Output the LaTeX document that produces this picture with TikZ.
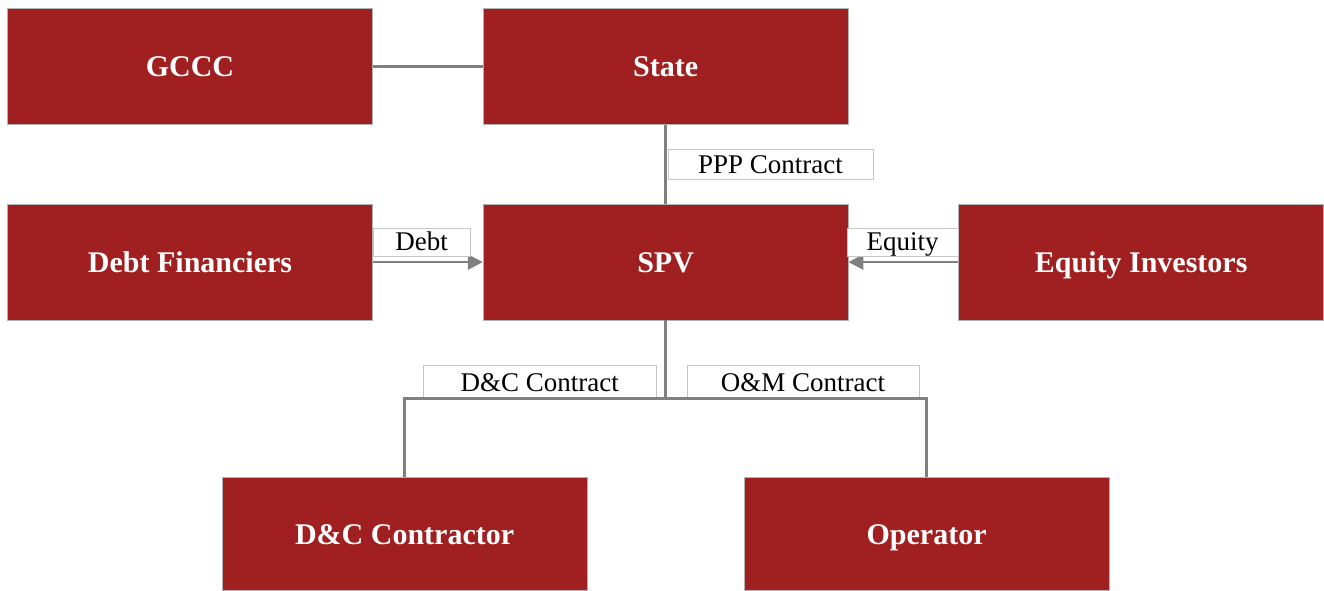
\documentclass[tikz,border=0pt]{standalone}
\usepackage{fontspec}
\setmainfont{Liberation Serif}
\usepackage{tikz}
\usetikzlibrary{arrows.meta}
\usetikzlibrary{positioning}
\definecolor{boxred}{HTML}{A01F20}
\definecolor{linegray}{HTML}{808080}

\begin{document}
\begin{tikzpicture}[x=1pt,y=-1pt,>={Triangle[length=15pt,width=15pt]}]
		\tikzstyle{party}=[rectangle,draw=gray!60,line width=0.6pt,fill=boxred,
			text=white,font=\fontsize{30}{34}\selectfont\bfseries,
			text height=22pt,text depth=2pt,
			minimum width=365pt,minimum height=116pt,inner sep=0pt];
		\tikzstyle{tag}=[rectangle,draw=gray!45,line width=0.6pt,fill=white,
			font=\fontsize{27}{30}\selectfont,text height=20pt,text depth=2pt,
			minimum height=30pt,inner sep=0pt];
		\tikzstyle{link}=[draw=linegray,line width=2.6pt];
		\useasboundingbox(0,0)rectangle(1324,591);

		\node[party](gccc)at(190,66.5){GCCC};
		\node[party,right=110pt of gccc](state){State};
		\node[party,below=79pt of state](spv){SPV};
		\node[party,left=110pt of spv](debt){Debt Financiers};
		\node[party,right=110pt of spv](equity){Equity Investors};
		\node[party,minimum height=113pt,below=157pt of spv,xshift=-261pt](dcc){D\&C Contractor};
		\node[party,minimum height=113pt,below=157pt of spv,xshift=261pt](op){Operator};
		\coordinate[below=78pt of spv.south](bus);

		\draw[link](gccc)--(state);
		\draw[link](state)--node[tag,anchor=west,xshift=2pt,minimum width=205pt]{PPP Contract}(spv);
		\draw[link,->](debt)--node[pos=0,tag,anchor=south west,yshift=6pt,minimum width=97pt,minimum height=28pt]{Debt}(spv);
		\draw[link,->](equity)--node[pos=0,tag,anchor=south east,yshift=6pt,minimum width=111pt,minimum height=28pt]{Equity}(spv);
		\draw[link](spv)--(bus)
			node[tag,anchor=south east,xshift=-9pt,yshift=-1pt,minimum width=233pt,minimum height=34pt]{D\&C Contract}
			node[tag,anchor=south west,xshift=21pt,yshift=-1pt,minimum width=232pt,minimum height=34pt]{O\&M Contract};
		\draw[link](bus)-|(dcc);
		\draw[link](bus)-|(op);
	\end{tikzpicture}
\end{document}
